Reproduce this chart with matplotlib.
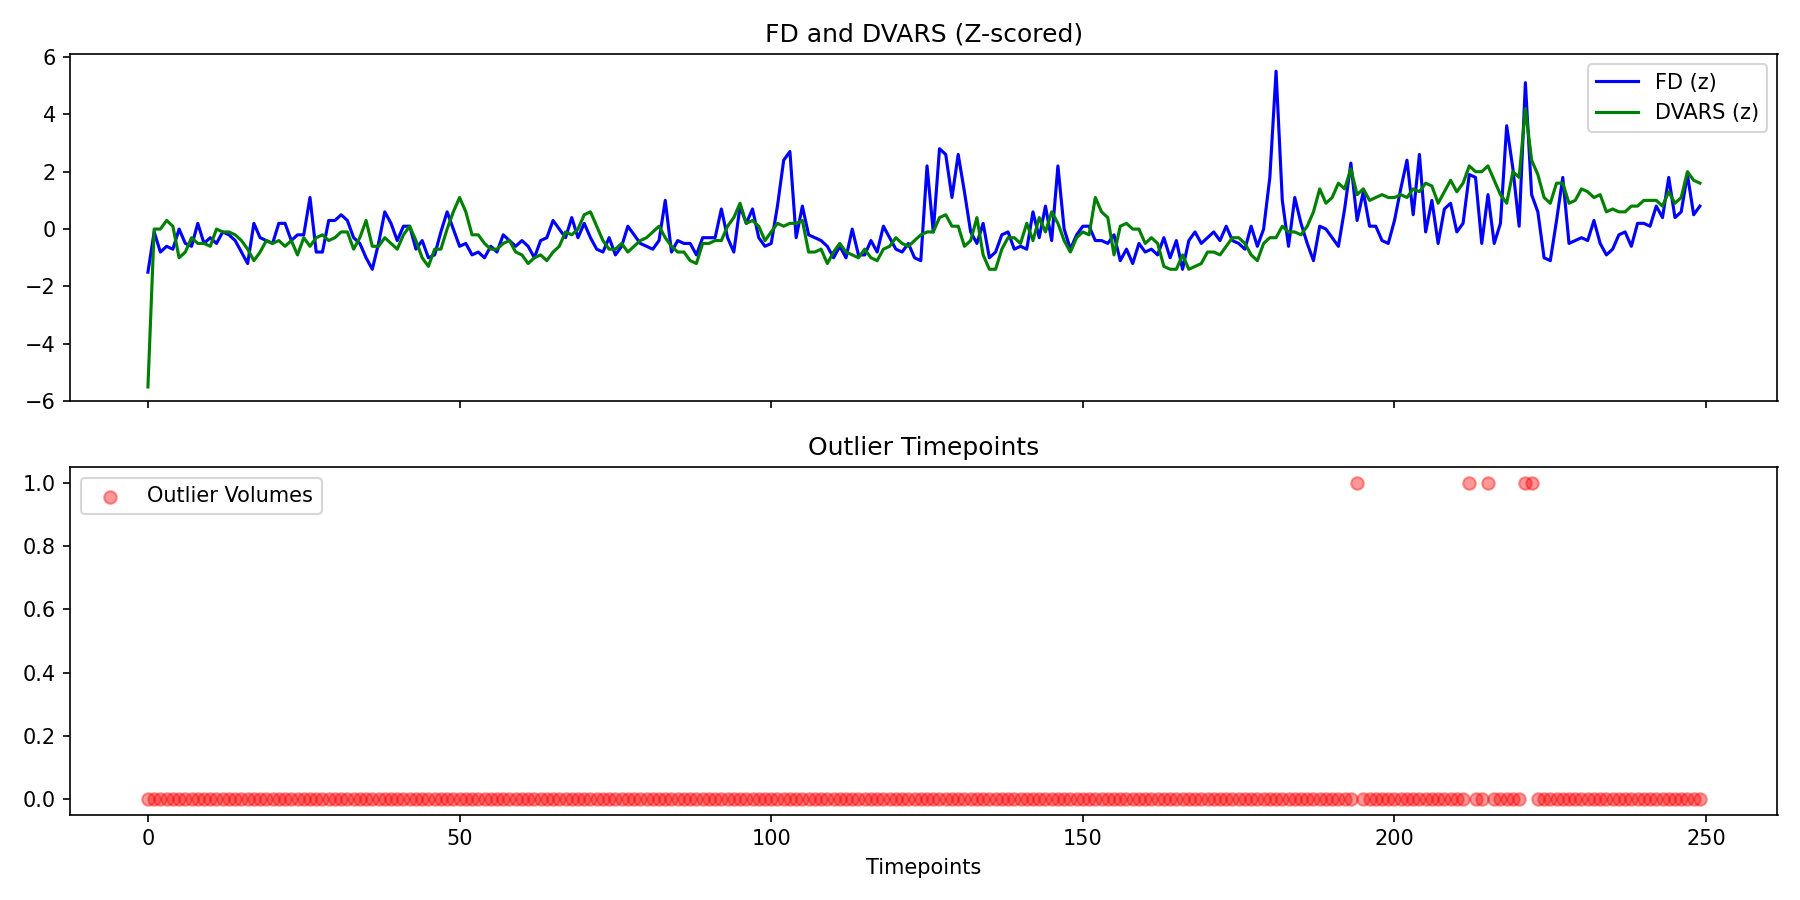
import numpy as np
import matplotlib.pyplot as plt

fd_z = [
    -1.5, -0.1, -0.8, -0.6, -0.7, 0.0, -0.5, -0.6, 0.2, -0.5,
    -0.3, -0.5, -0.1, -0.2, -0.4, -0.8, -1.2, 0.2, -0.3, -0.4,
    -0.5, 0.2, 0.2, -0.4, -0.2, -0.2, 1.1, -0.8, -0.8, 0.3,
    0.3, 0.5, 0.3, -0.3, -0.5, -1.0, -1.4, -0.5, 0.6, 0.2,
    -0.4, 0.1, 0.1, -0.7, -0.4, -1.0, -0.9, -0.1, 0.6, 0.0,
    -0.6, -0.5, -0.9, -0.8, -1.0, -0.6, -0.8, -0.2, -0.4, -0.6,
    -0.4, -0.6, -1.0, -0.4, -0.3, 0.3, 0.0, -0.3, 0.4, -0.3,
    0.2, -0.3, -0.7, -0.8, -0.3, -0.9, -0.6, 0.1, -0.2, -0.5,
    -0.6, -0.7, -0.4, 1.0, -0.8, -0.4, -0.5, -0.5, -0.9, -0.3,
    -0.3, -0.3, 0.7, -0.3, -0.8, 0.8, 0.2, 0.7, -0.3, -0.6,
    -0.5, 0.8, 2.4, 2.7, -0.3, 0.8, -0.2, -0.3, -0.4, -0.6,
    -1.0, -0.6, -1.0, 0.0, -0.9, -0.9, -0.4, -0.8, 0.1, -0.3,
    -0.7, -0.8, -0.5, -1.0, -1.1, 2.2, -0.1, 2.8, 2.6, 1.1,
    2.6, 1.3, -0.1, -0.5, 0.2, -1.0, -0.8, -0.2, -0.1, -0.7,
    -0.6, -0.7, 0.6, -0.3, 0.8, -0.4, 2.2, 0.0, -0.7, -0.2,
    0.1, 0.1, -0.4, -0.4, -0.5, -0.2, -1.1, -0.7, -1.2, -0.5,
    -0.8, -0.7, -0.9, -0.3, -1.0, -0.4, -1.4, -0.4, -0.1, -0.5,
    -0.3, -0.1, -0.4, 0.1, -0.4, -0.5, -0.7, 0.1, -0.6, 0.0,
    1.8, 5.5, 1.0, -0.6, 1.1, 0.2, -0.5, -1.1, 0.1, 0.0,
    -0.3, -0.6, 0.7, 2.3, 0.3, 1.3, 0.1, 0.1, -0.4, -0.5,
    0.3, 1.4, 2.4, 0.5, 2.6, -0.1, 1.0, -0.5, 0.7, 0.9,
    -0.1, 0.2, 1.9, 1.8, -0.5, 1.2, -0.5, 0.2, 3.6, 2.1,
    0.1, 5.1, 1.2, 0.6, -1.0, -1.1, 0.3, 1.8, -0.5, -0.4,
    -0.3, -0.4, 0.3, -0.5, -0.9, -0.7, -0.2, -0.1, -0.6, 0.2,
    0.2, 0.1, 0.8, 0.4, 1.8, 0.4, 0.6, 1.9, 0.5, 0.8,
]

dvars_z = [
    -5.5, 0.0, 0.0, 0.3, 0.1, -1.0, -0.8, -0.3, -0.5, -0.5,
    -0.6, 0.0, -0.1, -0.1, -0.2, -0.4, -0.7, -1.1, -0.8, -0.4,
    -0.5, -0.4, -0.6, -0.4, -0.9, -0.3, -0.6, -0.3, -0.2, -0.4,
    -0.3, -0.1, -0.1, -0.7, -0.3, 0.3, -0.6, -0.6, -0.3, -0.5,
    -0.7, -0.2, 0.1, -0.4, -1.0, -1.3, -0.7, -0.7, 0.0, 0.6,
    1.1, 0.6, -0.2, -0.2, -0.5, -0.7, -0.7, -0.5, -0.4, -0.8,
    -0.9, -1.2, -1.0, -0.9, -1.1, -0.8, -0.6, -0.1, -0.2, 0.0,
    0.5, 0.6, 0.1, -0.4, -0.7, -0.7, -0.5, -0.8, -0.6, -0.4,
    -0.3, -0.1, 0.1, -0.3, -0.6, -0.8, -0.8, -1.1, -1.2, -0.5,
    -0.5, -0.4, -0.4, 0.1, 0.4, 0.9, 0.2, 0.3, 0.1, -0.4,
    -0.1, 0.2, 0.1, 0.2, 0.2, 0.3, -0.8, -0.8, -0.7, -1.2,
    -0.8, -0.5, -0.8, -0.9, -1.0, -0.7, -1.0, -1.1, -0.7, -0.6,
    -0.3, -0.5, -0.6, -0.4, -0.2, -0.1, -0.1, 0.4, 0.5, 0.1,
    0.1, -0.6, -0.4, 0.4, -0.9, -1.4, -1.4, -0.7, -0.3, -0.3,
    -0.5, 0.2, -0.4, 0.4, -0.1, 0.6, 0.2, -0.4, -0.8, -0.3,
    -0.1, -0.2, 1.1, 0.6, 0.4, -0.9, 0.1, 0.2, 0.0, 0.0,
    -0.5, -0.3, -0.5, -1.3, -1.4, -1.4, -0.9, -1.4, -1.3, -1.2,
    -0.8, -0.8, -0.9, -0.6, -0.3, -0.3, -0.5, -0.9, -1.1, -0.5,
    -0.3, -0.3, 0.1, -0.1, -0.1, -0.2, 0.1, 0.6, 1.4, 0.9,
    1.1, 1.6, 1.4, 2.1, 1.2, 1.4, 1.0, 1.1, 1.2, 1.1,
    1.1, 1.2, 1.1, 1.4, 1.3, 1.6, 1.5, 0.9, 1.3, 1.7,
    1.3, 1.6, 2.2, 2.0, 2.0, 2.2, 1.7, 1.2, 0.9, 2.0,
    1.8, 4.2, 2.4, 1.9, 1.1, 0.9, 1.6, 1.6, 0.9, 1.0,
    1.4, 1.3, 1.1, 1.2, 0.6, 0.7, 0.6, 0.6, 0.8, 0.8,
    1.0, 1.0, 1.0, 0.8, 1.3, 0.9, 1.1, 2.0, 1.7, 1.6,
]

outlier_idx = [194, 212, 215, 221, 222]

t = np.arange(len(fd_z))
outliers = np.zeros(len(t))
outliers[outlier_idx] = 1

fig, (ax1, ax2) = plt.subplots(2, 1, figsize=(12, 6), dpi=150, sharex=True)

ax1.plot(t, fd_z, color='blue', label='FD (z)')
ax1.plot(t, dvars_z, color='green', label='DVARS (z)')
ax1.set_title('FD and DVARS (Z-scored)')
ax1.set_ylim(-6, 6.1)
ax1.legend(loc='upper right')

ax2.scatter(t, outliers, color='red', alpha=0.4, label='Outlier Volumes')
ax2.set_title('Outlier Timepoints')
ax2.set_xlabel('Timepoints')
ax2.legend(loc='upper left')

plt.tight_layout()
plt.savefig('out.png')
